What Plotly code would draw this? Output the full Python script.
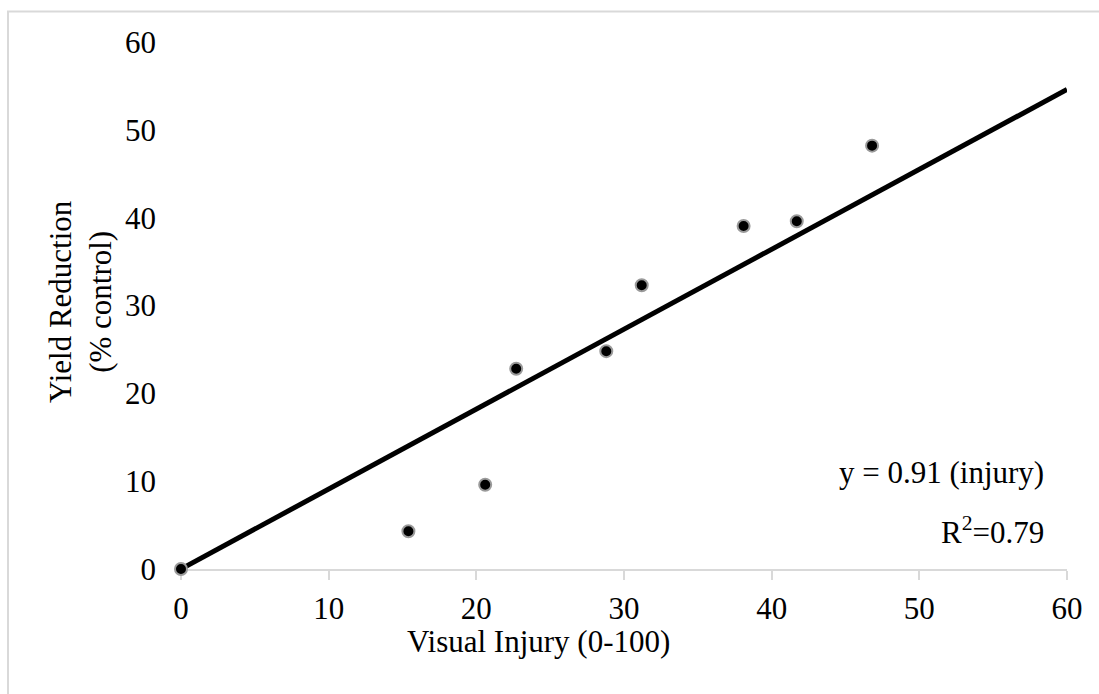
import plotly.graph_objects as go

# Observed injury vs. yield reduction
injury = [0, 15.4, 20.6, 22.7, 28.8, 31.2, 38.1, 41.7, 46.8]
yield_reduction = [0, 4.3, 9.6, 22.8, 24.8, 32.3, 39.05, 39.6, 48.2]

# Fitted regression through the origin
slope = 0.91
r_squared = 0.79
fit_x = [0, 60]
fit_y = [slope * v for v in fit_x]

tick_vals = [0, 10, 20, 30, 40, 50, 60]

FONT = "Liberation Serif, Times New Roman, serif"
FS = 31
GRID = "#d9d9d9"

W, H = 1099, 694
L, R, T, B = 181, 32, 42, 125
pw, ph = W - L - R, H - T - B


def px(xp):
    return (xp - L) / pw


def py(yp):
    return (H - B - yp) / ph


fig = go.Figure()

fig.add_trace(go.Scatter(
    x=fit_x, y=fit_y, mode="lines",
    line=dict(color="black", width=5),
    hoverinfo="skip", cliponaxis=False, showlegend=False,
))

fig.add_trace(go.Scatter(
    x=injury, y=yield_reduction, mode="markers",
    marker=dict(size=12, color="black", line=dict(color="#9a9a9a", width=2)),
    cliponaxis=False, showlegend=False,
))

fig.update_xaxes(
    range=[0, 60], tickvals=tick_vals, showgrid=False, zeroline=False,
    showline=True, linecolor=GRID, linewidth=1.5, layer="below traces",
    ticks="outside", ticklen=9, tickcolor=GRID, tickwidth=1.5,
    ticklabelstandoff=2,
    tickfont=dict(family=FONT, size=FS, color="black"),
)
fig.update_yaxes(
    range=[0, 60], tickvals=tick_vals, showgrid=False, zeroline=False,
    showline=False, ticks="", ticklabelstandoff=24, layer="below traces",
    tickfont=dict(family=FONT, size=FS, color="black"),
)

annotations = [
    dict(text="Visual Injury (0-100)", x=px(538), y=py(641),
         xanchor="center", yanchor="middle"),
    dict(text="Yield Reduction<br>(% control)", x=px(80), y=py(302),
         xanchor="center", yanchor="middle", textangle=-90),
    dict(text=f"y = {slope} (injury)", x=px(1046), y=py(472),
         xanchor="right", yanchor="middle"),
    dict(text=f"R<sup>2</sup>={r_squared}", x=px(1046), y=py(530),
         xanchor="right", yanchor="middle"),
]
for a in annotations:
    a.update(xref="paper", yref="paper", showarrow=False,
             font=dict(family=FONT, size=FS, color="black"))
fig.update_layout(annotations=annotations)

# Light frame around the chart
fig.add_shape(type="rect", xref="paper", yref="paper",
              x0=px(8), x1=px(1105), y0=py(700), y1=py(11.5),
              line=dict(color=GRID, width=2), layer="below")

fig.update_layout(
    width=W, height=H,
    margin=dict(l=L, r=R, t=T, b=B),
    plot_bgcolor="white", paper_bgcolor="white",
)

fig.write_html("out.html")
